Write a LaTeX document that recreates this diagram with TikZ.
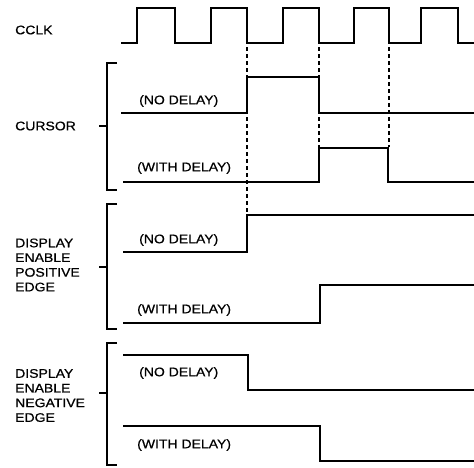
\documentclass[tikz,border=0pt]{standalone}
\usepackage{fontspec}
\setmainfont{Liberation Sans}[FakeStretch=1.12,FakeBold=0.6]
\begin{document}
\begin{tikzpicture}[x=1pt,y=-1pt,
  wave/.style={line width=1.8pt,line join=miter},
  guide/.style={line width=1.1pt,dash pattern=on 4pt off 3pt},
  brack/.style={line width=1.4pt},
  lbl/.style={anchor=west,inner sep=0pt,font=\fontsize{12.5}{14.7}\selectfont,align=left},
  sub/.style={anchor=west,inner sep=0pt,font=\fontsize{12.5}{14.7}\selectfont}]
\useasboundingbox (0,0) rectangle (474,467);
% labels
\node[lbl] (cclk) at (15,30) {CCLK};
\node[lbl] (cursor) at (15,126) {CURSOR};
\node[lbl] (dep) at (15,265) {DISPLAY\\ENABLE\\POSITIVE\\EDGE};
\node[lbl] (den) at (15,395.5) {DISPLAY\\ENABLE\\NEGATIVE\\EDGE};
\node[sub] (c1) at (139,101) {(NO DELAY)};
\node[sub] (c2) at (137,168) {(WITH DELAY)};
\node[sub] (p1) at (139,240) {(NO DELAY)};
\node[sub] (p2) at (137,310) {(WITH DELAY)};
\node[sub] (n1) at (139,373) {(NO DELAY)};
\node[sub] (n2) at (137,445) {(WITH DELAY)};
% brackets
\draw[brack] (117,63) -- (107,63) -- (107,190) -- (117,190);
\draw[brack] (99,126) -- (107,126);
\draw[brack] (117,204) -- (107,204) -- (107,329) -- (117,329);
\draw[brack] (99,267) -- (107,267);
\draw[brack] (117,343) -- (107,343) -- (107,465) -- (117,465);
\draw[brack] (99,393) -- (107,393);
% guides
\draw[guide] (247,47) -- (247,214);
\draw[guide] (319,47) -- (319,147);
\draw[guide] (389,47) -- (389,147);
% clock
\draw[wave] (121,43) -- (137,43) -- (137,8) -- (175,8) -- (175,43) -- (211,43) -- (211,8) -- (247,8) -- (247,43)
  -- (283,43) -- (283,8) -- (319,8) -- (319,43) -- (354,43) -- (354,8) -- (389,8) -- (389,43)
  -- (421,43) -- (421,8) -- (458,8) -- (458,43) -- (474,43);
% cursor
\draw[wave] (121,113) -- (247,113) -- (247,77) -- (319,77) -- (319,113) -- (474,113);
\draw[wave] (123,182) -- (319,182) -- (319,148) -- (388,148) -- (388,182) -- (474,182);
% display enable positive
\draw[wave] (123,252) -- (247,252) -- (247,215) -- (474,215);
\draw[wave] (123,323) -- (320,323) -- (320,285) -- (474,285);
% display enable negative
\draw[wave] (123,355) -- (248,355) -- (248,390) -- (474,390);
\draw[wave] (123,426) -- (320,426) -- (320,461) -- (474,461);
\end{tikzpicture}
\end{document}
